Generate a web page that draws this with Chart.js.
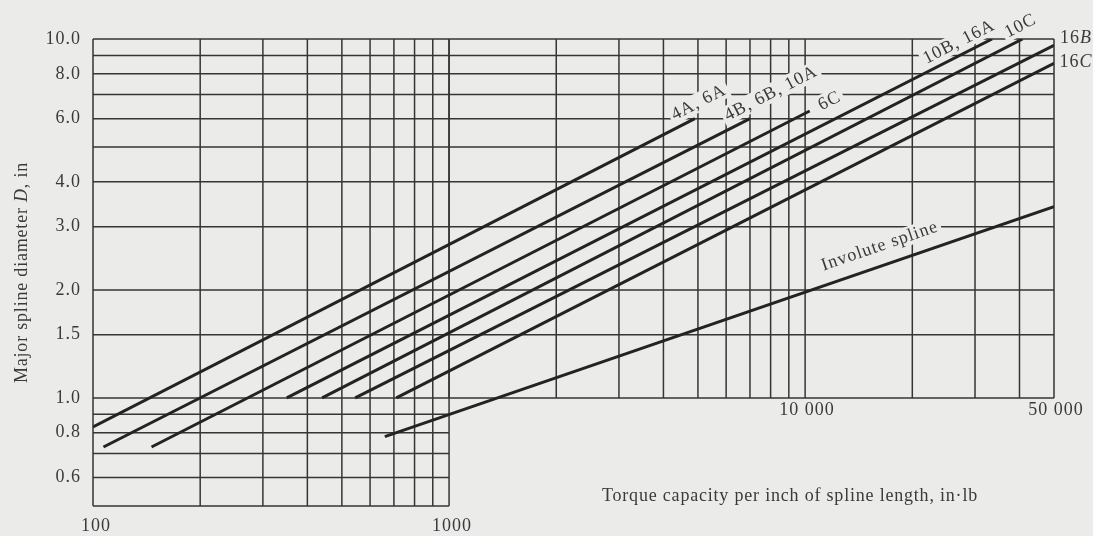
<!DOCTYPE html>
<html lang="en">
<head>
  <meta charset="UTF-8">
  <title>Spline torque capacity</title>
  <style>
    body { margin: 0; background: #ebebe9; }
    canvas { display: block; }
  </style>
</head>
<body>
  <canvas id="splineChart" width="1093" height="536"></canvas>

  <script src="https://cdn.jsdelivr.net/npm/chart.js"></script>
  <script>
    // series: each spline size is a straight line on log-log paper, given by its two ends
    const seriesNames = ['4A, 6A', '4B, 6B, 10A', '6C', '10B, 16A', '10C', '16B', '16C', 'Involute spline'];
    const torqueStart = [100, 107, 146, 350, 440, 545, 711, 660];
    const torqueEnd = [4900, 7000, 10300, 33500, 40800, 50000, 50000, 50000];
    const diameterStart = [0.83, 0.73, 0.73, 1.0, 1.0, 1.0, 1.0, 0.78];
    const diameterEnd = [6.0, 6.0, 6.3, 10.0, 10.0, 9.6, 8.55, 3.41];

    // grid of the chart paper (two blocks)
    const xGridLeft = [100, 200, 300, 400, 500, 600, 700, 800, 900, 1000];
    const yGridLeft = [0.5, 0.6, 0.7, 0.8, 0.9, 1.0, 1.5, 2, 3, 4, 5, 6, 7, 8, 9, 10];
    const xGridRight = [1000, 2000, 3000, 4000, 5000, 6000, 7000, 8000, 9000, 10000, 20000, 30000, 40000, 50000];
    const yGridRight = [1.0, 1.5, 2, 3, 4, 5, 6, 7, 8, 9, 10];

    // tick labels
    const yTicks = [0.6, 0.8, 1.0, 1.5, 2.0, 3.0, 4.0, 6.0, 8.0, 10.0];
    const xTicksLow = [100, 1000];
    const xTicksHigh = [10000, 50000];

    const paper = '#ebebe9';
    const ink = '#232323';
    const textInk = '#3a3a3a';
    const serif = '"Liberation Serif", "DejaVu Serif", serif';

    // where each line label sits relative to the line end (pixels), and which are rotated
    const labelOffsets = [[4, -16], [21, -25], [20, -10], [-33, 3], [-2, -13], [22, -7], [22, -1], [2, -21]];
    const labelRotated = [true, true, true, true, true, false, false, true];

    const fmt = v => v >= 10000 ? String(v).replace(/(\d)(?=(\d{3})+$)/g, '$1 ') : String(v);

    const paperPlugin = {
      id: 'paper',
      beforeDatasetsDraw(chart) {
        const { ctx, scales: { x, y } } = chart;
        const line = (x1, y1, x2, y2) => {
          ctx.beginPath(); ctx.moveTo(x1, y1); ctx.lineTo(x2, y2); ctx.stroke();
        };
        ctx.save();
        ctx.strokeStyle = '#353535';
        ctx.lineWidth = 1.5;
        xGridLeft.forEach(v => {
          const px = x.getPixelForValue(v);
          line(px, y.getPixelForValue(0.5), px, y.getPixelForValue(10));
        });
        yGridLeft.forEach(v => {
          const py = y.getPixelForValue(v);
          line(x.getPixelForValue(100), py, x.getPixelForValue(1000), py);
        });
        xGridRight.forEach(v => {
          const px = x.getPixelForValue(v);
          line(px, y.getPixelForValue(1.0), px, y.getPixelForValue(10));
        });
        yGridRight.forEach(v => {
          const py = y.getPixelForValue(v);
          line(x.getPixelForValue(1000), py, x.getPixelForValue(50000), py);
        });
        // clear the paper under the line labels
        ctx.font = '18px ' + serif;
        ctx.letterSpacing = '1px';
        seriesNames.forEach((name, i) => {
          const p = labelPlace(chart, i);
          ctx.save();
          ctx.translate(p.x, p.y);
          ctx.rotate(p.angle);
          const w = ctx.measureText(name).width;
          ctx.fillStyle = paper;
          ctx.fillRect(-w / 2 - 3, -10, w + 6, 19);
          ctx.restore();
        });
        ctx.restore();
      },
      afterDatasetsDraw(chart) {
        const { ctx, scales: { x, y } } = chart;
        ctx.save();
        ctx.fillStyle = textInk;
        ctx.font = '18px ' + serif;
        ctx.letterSpacing = '1px';

        // line labels
        ctx.textAlign = 'center';
        ctx.textBaseline = 'middle';
        seriesNames.forEach((name, i) => {
          const p = labelPlace(chart, i);
          ctx.save();
          ctx.translate(p.x, p.y);
          ctx.rotate(p.angle);
          if (name === '16B' || name === '16C') {
            const a = name.slice(0, 2), b = name.slice(2);
            ctx.textAlign = 'left';
            const wa = ctx.measureText(a).width;
            ctx.font = 'italic 18px ' + serif;
            const wb = ctx.measureText(b).width;
            ctx.fillText(b, -(wa + wb) / 2 + wa, 0);
            ctx.font = '18px ' + serif;
            ctx.fillText(a, -(wa + wb) / 2, 0);
          } else {
            ctx.fillText(name, 0, 0);
          }
          ctx.restore();
        });

        // y tick labels
        ctx.textAlign = 'right';
        yTicks.forEach(v => ctx.fillText(v.toFixed(1), 81, y.getPixelForValue(v)));

        // x tick labels, under each block
        ctx.textAlign = 'center';
        xTicksLow.forEach(v => ctx.fillText(fmt(v), x.getPixelForValue(v) + 3, y.getPixelForValue(0.5) + 20));
        xTicksHigh.forEach(v => ctx.fillText(fmt(v), x.getPixelForValue(v) + 2, y.getPixelForValue(1.0) + 12));

        // axis titles
        ctx.font = '18px ' + serif;
        ctx.letterSpacing = '0.8px';
        ctx.textAlign = 'center';
        ctx.fillText('Torque capacity per inch of spline length, in\u00b7lb', 790, 496);

        const parts = [['Major spline diameter ', ''], ['D', 'italic '], [', in', '']];
        const widths = parts.map(([t, s]) => { ctx.font = s + '18px ' + serif; return ctx.measureText(t).width; });
        const total = widths.reduce((a, b) => a + b, 0);
        ctx.translate(22, (chart.chartArea.top + chart.chartArea.bottom) / 2);
        ctx.rotate(-Math.PI / 2);
        ctx.textAlign = 'left';
        let cx = -total / 2;
        parts.forEach(([t, s], i) => {
          ctx.font = s + '18px ' + serif;
          ctx.fillText(t, cx, 0);
          cx += widths[i];
        });
        ctx.restore();
      }
    };

    function labelPlace(chart, i) {
      const { x, y } = chart.scales;
      const x1 = x.getPixelForValue(torqueStart[i]), y1 = y.getPixelForValue(diameterStart[i]);
      const x2 = x.getPixelForValue(torqueEnd[i]), y2 = y.getPixelForValue(diameterEnd[i]);
      const angle = labelRotated[i] ? Math.atan2(y2 - y1, x2 - x1) : 0;
      let ax = x2, ay = y2;
      if (seriesNames[i] === 'Involute spline') {
        // anchor on the line at 16 000 in-lb
        const t = (Math.log(16000) - Math.log(torqueStart[i])) / (Math.log(torqueEnd[i]) - Math.log(torqueStart[i]));
        ax = x1 + t * (x2 - x1);
        ay = y1 + t * (y2 - y1);
      }
      return { x: ax + labelOffsets[i][0], y: ay + labelOffsets[i][1], angle };
    }

    const datasets = seriesNames.map((name, i) => ({
      label: name,
      data: [
        { x: torqueStart[i], y: diameterStart[i] },
        { x: torqueEnd[i], y: diameterEnd[i] }
      ],
      borderColor: ink,
      borderWidth: 3,
      pointRadius: 0,
      fill: false
    }));

    new Chart(document.getElementById('splineChart').getContext('2d'), {
      type: 'line',
      data: { datasets },
      options: {
        responsive: false,
        animation: false,
        layout: { padding: { left: 93, right: 39, top: 39, bottom: 30 } },
        plugins: { legend: { display: false }, tooltip: { enabled: false } },
        scales: {
          x: { type: 'logarithmic', min: 100, max: 50000, display: false },
          y: { type: 'logarithmic', min: 0.5, max: 10, display: false }
        }
      },
      plugins: [paperPlugin]
    });
  </script>
</body>
</html>
